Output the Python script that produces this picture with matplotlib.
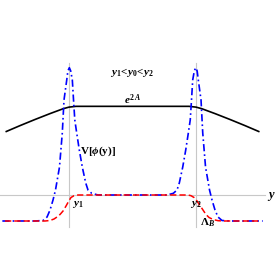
import matplotlib
matplotlib.use("Agg")
import matplotlib.pyplot as plt

plt.rcParams['lines.scale_dashes'] = False
plt.rcParams['mathtext.fontset'] = 'custom'
plt.rcParams['mathtext.rm'] = 'Liberation Serif:bold'
plt.rcParams['mathtext.it'] = 'Liberation Serif:bold:italic'
plt.rcParams['mathtext.bf'] = 'Liberation Serif:bold'
plt.rcParams['font.family'] = ['Liberation Serif', 'DejaVu Serif']

# brane positions
y1_pos, y2_pos = -1.0, 1.0

# warp factor e^{2A}
warp_y = [-2.0, -1.77, -1.54, -1.30, -1.09, -1.0, -0.89, -0.5, 0.0,
          0.5, 0.89, 1.0, 1.09, 1.30, 1.54, 1.77, 2.0]
warp_v = [2.43, 2.67, 2.90, 3.13, 3.32, 3.38, 3.41, 3.41, 3.41,
          3.41, 3.41, 3.38, 3.32, 3.13, 2.90, 2.67, 2.43]

# potential V[phi(y)] (left half, mirrored for right half)
pot_y_left = [-2.05, -1.535, -1.409, -1.346, -1.299, -1.252, -1.213, -1.150,
              -1.106, -1.079, -1.036, -1.018, -0.995, -0.973, -0.948, -0.929,
              -0.909, -0.879, -0.838, -0.791, -0.737, -0.701, -0.643, -0.543, 0.0]
pot_v_left = [-1.0, -1.0, -0.98, -0.846, -0.577, -0.192, 0.192, 1.077,
              2.385, 3.654, 4.423, 4.77, 4.896, 4.77, 4.423, 3.654,
              2.885, 2.385, 1.731, 1.077, 0.462, 0.192, 0.065, 0.0, 0.0]
pot_y = pot_y_left + [-u for u in reversed(pot_y_left[:-1])]
pot_v = pot_v_left + list(reversed(pot_v_left[:-1]))

# cosmological constant profile Lambda_B
lam_y = [-2.008, -1.378, -1.299, -1.236, -1.189, -1.142, -1.094, -1.047, -1.008,
         -0.969, -0.921, -0.858, 0.0, 0.874, 0.921, 0.969, 1.016, 1.063, 1.110,
         1.157, 1.205, 1.268, 1.346, 1.425, 2.024]
lam_v = [-1.0, -1.0, -0.981, -0.923, -0.846, -0.75, -0.615, -0.423, -0.25,
         -0.096, -0.027, 0.0, 0.0, 0.0, -0.027, -0.096, -0.231, -0.404, -0.577,
         -0.75, -0.865, -0.942, -0.988, -1.0, -1.0]

fig = plt.figure(figsize=(2.75, 2.75), dpi=100)
ax = fig.add_axes([0, 0, 1, 1])
ax.set_xlim(-2.087, 2.244)
ax.set_ylim(-3.077, 7.5)
ax.axis('off')

gray = '#c8c8c8'
ax.plot([-2.087, 2.087], [0, 0], color=gray, lw=0.8)
for yb in (y1_pos, y2_pos):
    ax.plot([yb, yb], [-1.23, 5.08], color=gray, lw=0.8)

ax.plot(warp_y, warp_v, color='black', lw=1.2, solid_capstyle='butt')
ax.plot(pot_y, pot_v, color='#0000ff', lw=1.2, dashes=(5.2, 2.2, 1.2, 2.2))
ax.plot(lam_y, lam_v, color='#ff0000', lw=1.1, dashes=(4.5, 2.2))

ax.text(-0.008, 4.73, r'$y_1\!<\!y_0\!<\!y_2$', fontsize=8, ha='center', va='center')
ax.text(0.0, 3.68, r'$e^{2\,A}$', fontsize=8, ha='center', va='center')
ax.text(-0.55, 1.69, r'$\mathrm{V[}\phi\mathrm{(y)]}$', fontsize=8, ha='center', va='center')
ax.text(-0.87, -0.35, r'$y_1$', fontsize=8, ha='center', va='center')
ax.text(1.0, -0.35, r'$y_2$', fontsize=8, ha='center', va='center')
ax.text(1.174, -1.08, r'$\Lambda_B$', fontsize=8, ha='center', va='center')
ax.text(2.19, -0.05, r'$y$', fontsize=9, ha='center', va='center')

fig.savefig('out.png', dpi=100)
